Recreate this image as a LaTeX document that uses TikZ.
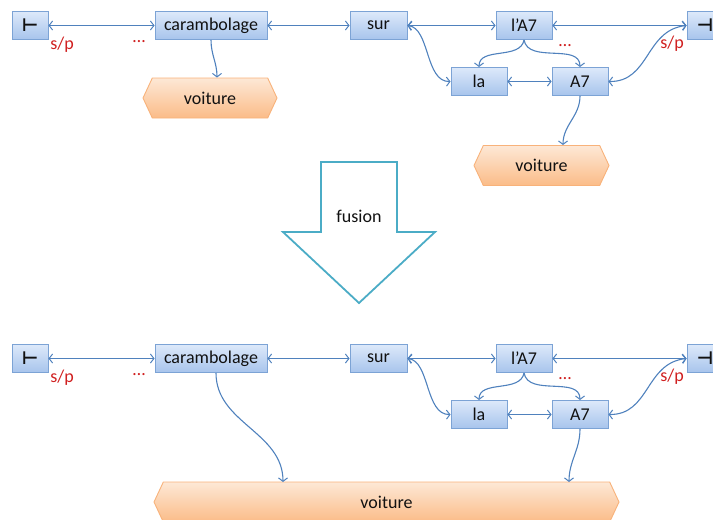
\documentclass[tikz,border=0pt]{standalone}
\usepackage{fontspec}
\setmainfont{Carlito}
\newfontfamily\symfont{DejaVu Sans}
\usetikzlibrary{arrows.meta,shapes.symbols}
\definecolor{boxtop}{HTML}{DDE9FA}
\definecolor{boxbot}{HTML}{A7C4EC}
\definecolor{boxline}{HTML}{7CA3D5}
\definecolor{ortop}{HTML}{FDE8D6}
\definecolor{orbot}{HTML}{FBBC88}
\definecolor{orline}{HTML}{F8B27A}
\definecolor{lineb}{HTML}{4F81BD}
\definecolor{labred}{HTML}{D02020}
\definecolor{txt}{HTML}{111111}
\definecolor{teal}{HTML}{4BACC6}
\tikzset{
  wbox/.style={draw=boxline, line width=0.9pt, top color=boxtop, bottom color=boxbot,
    minimum height=28pt, inner sep=0pt, text=txt, font=\fontsize{18}{21}\selectfont},
  hexa/.style={draw=orline, line width=0.9pt, top color=ortop, bottom color=orbot,
    shape=signal, signal to=west and east, signal pointer angle=130,
    minimum height=40pt, inner sep=0pt, text=txt, font=\fontsize{18}{21}\selectfont},
  conn/.style={draw=lineb, line width=1.1pt},
  tipb/.tip={Straight Barb[length=3.5pt,width=9pt,line width=1pt]},
  dbl/.style={conn, tipb-tipb},
  sgl/.style={conn, -tipb},
  redlab/.style={text=labred, font=\fontsize{18}{21}\selectfont, inner sep=0pt},
  fusionarrow/.style={draw=teal, line width=1.8pt, fill=white, line join=miter},
  turn/.style={font=\symfont\bfseries\fontsize{15}{18}\selectfont},
}
\begin{document}
\begin{tikzpicture}[x=1pt,y=-1pt]
\useasboundingbox (0,0) rectangle (713,520);
\clip (0,0) rectangle (713,520);
% ---------- top diagram ----------
\node[wbox, minimum width=36pt] (lt) at (30,25.5) {\textnormal{\symfont\bfseries ⊢}};
\node[wbox, minimum width=112pt] (car) at (211,25.5) {carambolage};
\node[wbox, minimum width=57pt] (sur) at (378.5,25.5) {sur};
\node[wbox, minimum width=56pt] (lA) at (524,25.5) {l’A7};
\node[wbox, minimum width=36pt] (rt) at (705,25.5) {\textnormal{\symfont\bfseries ⊣}};
\node[wbox, minimum width=56pt] (la) at (479,81.5) {la};
\node[wbox, minimum width=56pt] (A) at (580,81.5) {A7};
\node[hexa, minimum width=134pt] (v1) at (210,98) {voiture};
\node[hexa, minimum width=135pt] (v2) at (541.5,165.5) {voiture};
\node[redlab] (sp1) at (62,45) {s/p};
\node[redlab] (d1) at (139,42) {…};
\node[redlab] (d2) at (565,46) {…};
\node[redlab] (sp2) at (672,44) {s/p};

\draw[dbl] (lt) -- (car);
\draw[dbl] (car) -- (sur);
\draw[dbl] (sur) -- (lA);
\draw[dbl] (lA) -- (rt);
\draw[dbl] (la) -- (A);
\draw[dbl] (sur.east) .. controls (430,28) and (425,82) .. (la.west);
\draw[dbl] (rt.west) .. controls (645,30) and (650,82) .. (A.east);
\draw[sgl] (lA.south) to[out=-100,in=90] (la.north);
\draw[sgl] (lA.south) to[out=-80,in=90] (A.north);
\draw[sgl] (car.south) to[out=-90,in=90] (v1.north -| 217,0);
\draw[sgl] (A.south) to[out=-90,in=90] (v2.north -| 563,0);

% ---------- fusion arrow ----------
\draw[fusionarrow] (321,162) -- (397,162) -- (397,232) -- (435,232) -- (359,303)
  -- (283,232) -- (321,232) -- cycle;
\node[text=txt, font=\fontsize{18}{21}\selectfont] (fu) at (359,216) {fusion};

% ---------- bottom diagram ----------
\begin{scope}[yshift=-333pt]
\node[wbox, minimum width=36pt] (blt) at (30,25.5) {\textnormal{\symfont\bfseries ⊢}};
\node[wbox, minimum width=112pt] (bcar) at (211,25.5) {carambolage};
\node[wbox, minimum width=57pt] (bsur) at (378.5,25.5) {sur};
\node[wbox, minimum width=56pt] (blA) at (524,25.5) {l’A7};
\node[wbox, minimum width=36pt] (brt) at (705,25.5) {\textnormal{\symfont\bfseries ⊣}};
\node[wbox, minimum width=56pt] (bla) at (479,81.5) {la};
\node[wbox, minimum width=56pt] (bA) at (580,81.5) {A7};
\node[redlab] (bsp1) at (62,45) {s/p};
\node[redlab] (bd1) at (139,42) {…};
\node[redlab] (bd2) at (565,46) {…};
\node[redlab] (bsp2) at (672,44) {s/p};
\node[hexa, minimum width=465pt] (v3) at (386.5,169) {voiture};
\coordinate (cs) at (216,40);
\coordinate (ce) at (283,149);
\coordinate (ae) at (569,149);
\coordinate (k1) at (430,28);
\coordinate (k2) at (425,82);
\coordinate (k3) at (645,30);
\coordinate (k4) at (650,82);
\end{scope}
\draw[dbl] (blt) -- (bcar);
\draw[dbl] (bcar) -- (bsur);
\draw[dbl] (bsur) -- (blA);
\draw[dbl] (blA) -- (brt);
\draw[dbl] (bla) -- (bA);
\draw[dbl] (bsur.east) .. controls (k1) and (k2) .. (bla.west);
\draw[dbl] (brt.west) .. controls (k3) and (k4) .. (bA.east);
\draw[sgl] (blA.south) to[out=-100,in=90] (bla.north);
\draw[sgl] (blA.south) to[out=-80,in=90] (bA.north);
\draw[sgl] (cs) to[out=-90,in=90] (ce);
\draw[sgl] (bA.south) to[out=-90,in=90] (ae);
\end{tikzpicture}
\end{document}
